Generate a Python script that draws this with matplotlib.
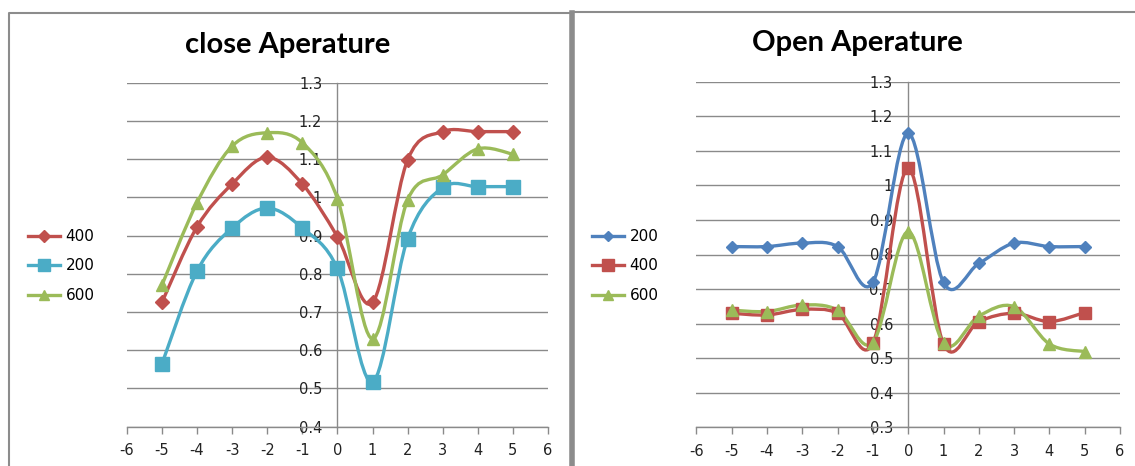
import matplotlib
matplotlib.use("Agg")
import matplotlib.pyplot as plt
import numpy as np
from matplotlib.path import Path
from matplotlib.patches import PathPatch
from matplotlib.lines import Line2D

plt.rcParams['axes.unicode_minus'] = False
plt.rcParams['font.family'] = ['DejaVu Sans']

# data
x_pos = [-5, -4, -3, -2, -1, 0, 1, 2, 3, 4, 5]

close_400 = [0.725, 0.923, 1.035, 1.105, 1.035, 0.897, 0.725, 1.098, 1.172, 1.172, 1.172]
close_200 = [0.564, 0.807, 0.920, 0.972, 0.920, 0.814, 0.517, 0.892, 1.026, 1.028, 1.028]
close_600 = [0.770, 0.986, 1.134, 1.169, 1.143, 0.997, 0.630, 0.993, 1.059, 1.127, 1.113]

open_200 = [0.823, 0.823, 0.833, 0.823, 0.719, 1.151, 0.719, 0.774, 0.833, 0.823, 0.823]
open_400 = [0.630, 0.625, 0.641, 0.630, 0.543, 1.050, 0.541, 0.606, 0.630, 0.606, 0.632]
open_600 = [0.639, 0.635, 0.654, 0.639, 0.545, 0.866, 0.543, 0.622, 0.649, 0.541, 0.519]

close_labels = ['400', '200', '600']
open_labels = ['200', '400', '600']

RED = '#C0504D'
AQUA = '#4BACC6'
BLUE = '#4F81BD'
GREEN = '#9BBB59'
GRID = '#8a8a8a'

W, H = 1135, 466
fig = plt.figure(figsize=(W / 100, H / 100), dpi=100)


def px_box(x0, x1, ytop, ybot):
    return [x0 / W, 1 - ybot / H, (x1 - x0) / W, (ybot - ytop) / H]


def smooth_path(xs, ys):
    # excel style smoothed line: bezier segments through the points
    P = np.column_stack([xs, ys]).astype(float)
    n = len(P)
    verts = [P[0]]
    codes = [Path.MOVETO]
    for i in range(n - 1):
        p0 = P[i - 1] if i > 0 else P[i]
        p1 = P[i]
        p2 = P[i + 1]
        p3 = P[i + 2] if i + 2 < n else P[i + 1]
        verts += [p1 + (p2 - p0) / 6, p2 - (p3 - p1) / 6, p2]
        codes += [Path.CURVE4] * 3
    return Path(verts, codes)


def draw_series(ax, ys, color, marker, ms):
    ax.add_patch(PathPatch(smooth_path(x_pos, ys), fill=False, edgecolor=color,
                           lw=2.4, capstyle='round', joinstyle='round', zorder=3))
    ax.plot(x_pos, ys, linestyle='none', marker=marker, ms=ms, color=color,
            mec=color, zorder=4)


def style_axes(ax, ymin):
    ax.set_xlim(-6, 6)
    ax.set_ylim(ymin, 1.3)
    ax.set_xticks(range(-6, 7))
    ax.set_xticklabels([str(v) for v in range(-6, 7)])
    yt = np.round(np.arange(ymin, 1.3001, 0.1), 1)
    ax.set_yticks(yt)
    ax.set_yticklabels([f"{v:g}" for v in yt])
    for s in ['top', 'right']:
        ax.spines[s].set_visible(False)
    ax.spines['left'].set_position(('data', 0))
    ax.spines['left'].set_color(GRID)
    ax.spines['bottom'].set_color(GRID)
    ax.spines['left'].set_linewidth(1)
    ax.spines['bottom'].set_linewidth(1)
    ax.yaxis.grid(True, color=GRID, lw=1)
    ax.set_axisbelow(True)
    ax.tick_params(axis='y', length=0, pad=11, labelsize=10.5, labelcolor='#222222')
    ax.tick_params(axis='x', length=5, width=1, color=GRID, pad=7,
                   labelsize=10.5, labelcolor='#222222')
    ax.patch.set_alpha(0)


# left chart
ax1 = fig.add_axes(px_box(126.8, 548, 82.7, 426.7))
style_axes(ax1, 0.4)
draw_series(ax1, close_400, RED, 'D', 7)
draw_series(ax1, close_200, AQUA, 's', 10)
draw_series(ax1, close_600, GREEN, '^', 9)
fig.text(288 / W, 1 - 45 / H, 'close Aperature', ha='center', va='center',
         fontsize=21, fontweight='bold', family='Lato')

h1 = [Line2D([], [], color=RED, lw=2.4, marker='D', ms=6.5),
      Line2D([], [], color=AQUA, lw=2.4, marker='s', ms=8.5),
      Line2D([], [], color=GREEN, lw=2.4, marker='^', ms=7.5)]
fig.legend(h1, close_labels, loc='center left', bbox_to_anchor=(28 / W, 1 - 266 / H),
           frameon=False, fontsize=11, handlelength=2.1, handletextpad=0.35,
           labelspacing=0.95, borderpad=0, borderaxespad=0)

# right chart
ax2 = fig.add_axes(px_box(696.4, 1120, 81.7, 427.3))
style_axes(ax2, 0.3)
draw_series(ax2, open_200, BLUE, 'D', 6)
draw_series(ax2, open_400, RED, 's', 8.5)
draw_series(ax2, open_600, GREEN, '^', 8)
fig.text(857 / W, 1 - 43 / H, 'Open Aperature', ha='center', va='center',
         fontsize=21, fontweight='bold', family='Lato')

h2 = [Line2D([], [], color=BLUE, lw=2.4, marker='D', ms=5.5),
      Line2D([], [], color=RED, lw=2.4, marker='s', ms=8.5),
      Line2D([], [], color=GREEN, lw=2.4, marker='^', ms=7.5)]
fig.legend(h2, open_labels, loc='center left', bbox_to_anchor=(592 / W, 1 - 266 / H),
           frameon=False, fontsize=11, handlelength=2.1, handletextpad=0.35,
           labelspacing=0.95, borderpad=0, borderaxespad=0)

# chart area borders
def fig_line(xs, ys, lw, color='#8c8c8c'):
    fig.add_artist(Line2D([v / W for v in xs], [1 - v / H for v in ys],
                          transform=fig.transFigure, lw=lw, color=color))

fig_line([9, 9, 570], [H + 2, 12.7, 12.7], 1.5)
fig_line([572, 572], [12.7, H + 2], 4)
fig_line([574, W + 2], [11.7, 11.7], 1.5)

fig.savefig('out.png', dpi=100, facecolor='white')
